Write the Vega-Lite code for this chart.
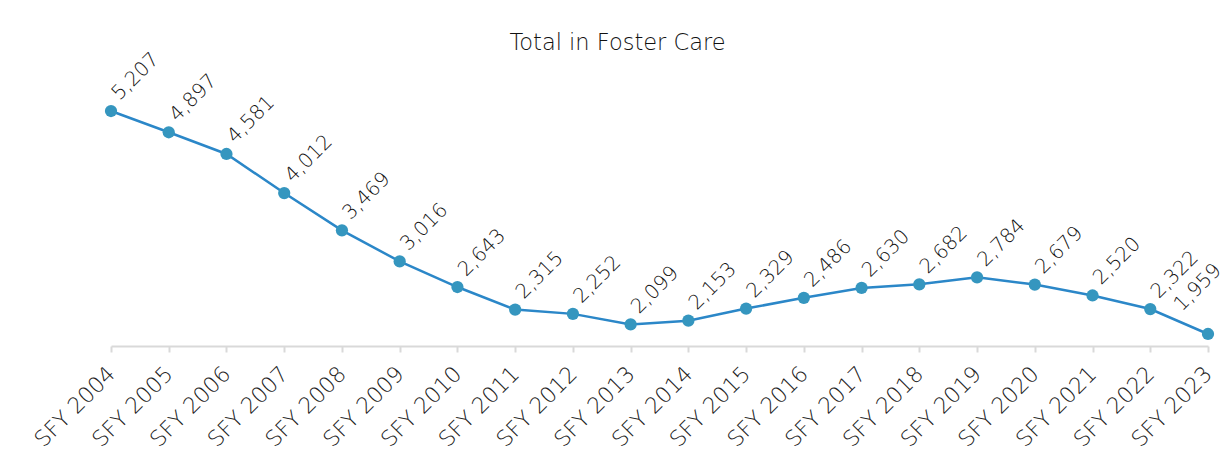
{
  "$schema": "https://vega.github.io/schema/vega-lite/v6.json",
  "autosize": {"type": "none"},
  "padding": {"left": 111, "top": 60, "right": 19, "bottom": 117},
  "width": 1097,
  "height": 286,
  "background": "white",
  "title": {
    "text": "Total in Foster Care",
    "font": "DejaVu Sans",
    "fontSize": 22.5,
    "fontWeight": 200,
    "color": "#111111",
    "anchor": "middle",
    "frame": "group",
    "dx": -42,
    "dy": 36,
    "baseline": "bottom",
    "offset": 8
  },
  "config": {
    "view": {"stroke": null},
    "font": "DejaVu Sans"
  },
  "data": {
    "values": [
      {"year": "SFY 2004", "total": 5207},
      {"year": "SFY 2005", "total": 4897},
      {"year": "SFY 2006", "total": 4581},
      {"year": "SFY 2007", "total": 4012},
      {"year": "SFY 2008", "total": 3469},
      {"year": "SFY 2009", "total": 3016},
      {"year": "SFY 2010", "total": 2643},
      {"year": "SFY 2011", "total": 2315},
      {"year": "SFY 2012", "total": 2252},
      {"year": "SFY 2013", "total": 2099},
      {"year": "SFY 2014", "total": 2153},
      {"year": "SFY 2015", "total": 2329},
      {"year": "SFY 2016", "total": 2486},
      {"year": "SFY 2017", "total": 2630},
      {"year": "SFY 2018", "total": 2682},
      {"year": "SFY 2019", "total": 2784},
      {"year": "SFY 2020", "total": 2679},
      {"year": "SFY 2021", "total": 2520},
      {"year": "SFY 2022", "total": 2322},
      {"year": "SFY 2023", "total": 1959}
    ]
  },
  "encoding": {
    "x": {
      "field": "year",
      "type": "ordinal",
      "scale": {"type": "point", "padding": 0},
      "axis": {
        "title": null,
        "labelAngle": -45,
        "labelAlign": "right",
        "labelBaseline": "middle",
        "labelFont": "DejaVu Sans",
        "labelFontSize": 22,
        "labelFontWeight": 200,
        "labelColor": "#222222",
        "labelPadding": 18,
        "labelDx": 4,
        "domainColor": "#d9d9d9",
        "domainWidth": 2,
        "tickColor": "#d9d9d9",
        "tickWidth": 2,
        "tickSize": 6,
        "grid": false
      }
    },
    "y": {
      "field": "total",
      "type": "quantitative",
      "scale": {"domain": [1784, 5950], "zero": false, "nice": false},
      "axis": null
    }
  },
  "layer": [
    {
      "mark": {"type": "line", "color": "#2b87c8", "strokeWidth": 2.5}
    },
    {
      "mark": {"type": "circle", "color": "#3596bf", "size": 150, "opacity": 1}
    },
    {
      "transform": [{"filter": "datum.year != 'SFY 2023'"}],
      "mark": {"type": "text", "angle": -45, "align": "left", "baseline": "alphabetic", "dx": 13, "dy": -1, "font": "DejaVu Sans", "fontWeight": 200, "fontSize": 20, "color": "#111111"},
      "encoding": {
        "text": {"field": "total", "type": "quantitative", "format": ","}
      }
    },
    {
      "transform": [{"filter": "datum.year == 'SFY 2023'"}],
      "mark": {"type": "text", "angle": -45, "align": "left", "baseline": "alphabetic", "dx": -3, "dy": -34, "font": "DejaVu Sans", "fontWeight": 200, "fontSize": 20, "color": "#111111"},
      "encoding": {
        "text": {"field": "total", "type": "quantitative", "format": ","}
      }
    }
  ]
}
